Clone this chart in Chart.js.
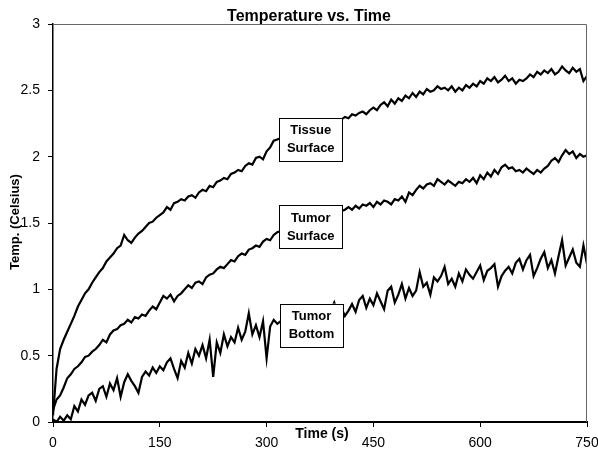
<!DOCTYPE html>
<html>
<head>
<meta charset="utf-8">
<script src="https://cdn.jsdelivr.net/npm/chart.js@4.4.1/dist/chart.umd.min.js"></script>
<style>
  body { margin: 0; background: #fff; }
</style>
</head>
<body>
<canvas id="temp-chart" width="598" height="451"></canvas>
<script>
// time in seconds (every 5 s)
const times = [
    0, 5, 10, 15, 20, 25, 30, 35, 40, 45,
    50, 55, 60, 65, 70, 75, 80, 85, 90, 95,
    100, 105, 110, 115, 120, 125, 130, 135, 140, 145,
    150, 155, 160, 165, 170, 175, 180, 185, 190, 195,
    200, 205, 210, 215, 220, 225, 230, 235, 240, 245,
    250, 255, 260, 265, 270, 275, 280, 285, 290, 295,
    300, 305, 310, 315, 320, 325, 330, 335, 340, 345,
    350, 355, 360, 365, 370, 375, 380, 385, 390, 395,
    400, 405, 410, 415, 420, 425, 430, 435, 440, 445,
    450, 455, 460, 465, 470, 475, 480, 485, 490, 495,
    500, 505, 510, 515, 520, 525, 530, 535, 540, 545,
    550, 555, 560, 565, 570, 575, 580, 585, 590, 595,
    600, 605, 610, 615, 620, 625, 630, 635, 640, 645,
    650, 655, 660, 665, 670, 675, 680, 685, 690, 695,
    700, 705, 710, 715, 720, 725, 730, 735, 740, 745,
    750
]

const tissueSurface = [
    0.05, 0.40, 0.55, 0.62, 0.68, 0.74, 0.80, 0.87, 0.92, 0.97,
    1.00, 1.05, 1.09, 1.13, 1.16, 1.21, 1.24, 1.27, 1.31, 1.33,
    1.41, 1.37, 1.35, 1.39, 1.42, 1.44, 1.47, 1.50, 1.51, 1.54,
    1.56, 1.58, 1.62, 1.60, 1.65, 1.66, 1.68, 1.67, 1.70, 1.71,
    1.69, 1.73, 1.75, 1.74, 1.78, 1.77, 1.81, 1.82, 1.84, 1.83,
    1.87, 1.88, 1.90, 1.89, 1.93, 1.95, 1.94, 1.99, 2.00, 1.98,
    2.04, 2.07, 2.12, 2.13, 2.14, 2.15, 2.16, 2.17, 2.18, 2.19,
    2.20, 2.21, 2.22, 2.22, 2.23, 2.24, 2.25, 2.26, 2.26, 2.27,
    2.28, 2.28, 2.30, 2.29, 2.32, 2.31, 2.33, 2.34, 2.32, 2.35,
    2.37, 2.35, 2.39, 2.41, 2.38, 2.43, 2.40, 2.44, 2.42, 2.46,
    2.44, 2.48, 2.45, 2.49, 2.47, 2.51, 2.49, 2.50, 2.53, 2.51,
    2.52, 2.50, 2.53, 2.49, 2.52, 2.50, 2.54, 2.52, 2.55, 2.53,
    2.57, 2.55, 2.59, 2.57, 2.60, 2.56, 2.58, 2.61, 2.57, 2.59,
    2.55, 2.58, 2.57, 2.59, 2.62, 2.60, 2.64, 2.62, 2.65, 2.63,
    2.66, 2.62, 2.64, 2.68, 2.65, 2.63, 2.67, 2.64, 2.66, 2.57,
    2.61
]

const tumorSurface = [
    0.09, 0.17, 0.20, 0.26, 0.33, 0.36, 0.40, 0.42, 0.45, 0.49,
    0.50, 0.53, 0.55, 0.58, 0.62, 0.60, 0.66, 0.69, 0.70, 0.73,
    0.74, 0.77, 0.75, 0.79, 0.78, 0.81, 0.80, 0.84, 0.87, 0.85,
    0.90, 0.95, 0.93, 0.96, 0.91, 0.95, 0.97, 1.00, 1.03, 1.01,
    1.05, 1.06, 1.04, 1.09, 1.11, 1.12, 1.15, 1.17, 1.16, 1.19,
    1.22, 1.21, 1.25, 1.27, 1.26, 1.30, 1.31, 1.33, 1.32, 1.36,
    1.38, 1.37, 1.41, 1.43, 1.44, 1.45, 1.46, 1.47, 1.48, 1.49,
    1.50, 1.51, 1.52, 1.53, 1.54, 1.55, 1.56, 1.56, 1.57, 1.58,
    1.59, 1.59, 1.60, 1.62, 1.60, 1.63, 1.61, 1.64, 1.63, 1.65,
    1.62, 1.66, 1.64, 1.67, 1.66, 1.64, 1.68, 1.67, 1.70, 1.66,
    1.73, 1.71, 1.75, 1.78, 1.76, 1.79, 1.80, 1.78, 1.83, 1.81,
    1.79, 1.82, 1.80, 1.78, 1.81, 1.80, 1.83, 1.81, 1.84, 1.80,
    1.86, 1.83, 1.88, 1.85, 1.90, 1.87, 1.92, 1.94, 1.91, 1.92,
    1.89, 1.90, 1.88, 1.91, 1.89, 1.87, 1.90, 1.88, 1.91, 1.93,
    1.97, 1.99, 1.96, 2.01, 2.05, 2.02, 2.04, 1.99, 2.02, 2.00,
    2.01
]

const tumorBottom = [
    0.02, 0.00, 0.04, 0.01, 0.05, 0.02, 0.12, 0.08, 0.17, 0.13,
    0.20, 0.22, 0.16, 0.25, 0.27, 0.19, 0.29, 0.24, 0.33, 0.19,
    0.30, 0.36, 0.31, 0.27, 0.22, 0.34, 0.38, 0.35, 0.41, 0.37,
    0.42, 0.39, 0.45, 0.48, 0.40, 0.33, 0.46, 0.41, 0.52, 0.44,
    0.55, 0.50, 0.58, 0.48, 0.62, 0.34, 0.60, 0.52, 0.66, 0.57,
    0.64, 0.60, 0.71, 0.62, 0.68, 0.82, 0.66, 0.73, 0.64, 0.76,
    0.48, 0.72, 0.77, 0.74, 0.76, 0.72, 0.79, 0.75, 0.80, 0.77,
    0.81, 0.78, 0.82, 0.79, 0.83, 0.80, 0.85, 0.81, 0.84, 0.90,
    0.82, 0.86, 0.80, 0.84, 0.89, 0.83, 0.92, 0.95, 0.86, 0.93,
    0.88, 0.97, 0.91, 0.85, 0.99, 1.02, 0.90, 0.96, 1.04, 0.93,
    1.01, 0.95, 0.99, 1.13, 1.02, 1.05, 0.96, 1.09, 1.06, 1.10,
    1.17, 1.04, 1.08, 1.02, 1.12, 1.06, 1.15, 1.11, 1.08, 1.13,
    1.18, 1.07, 1.14, 1.16, 1.19, 1.02, 1.10, 1.14, 1.17, 1.12,
    1.20, 1.23, 1.15, 1.22, 1.26, 1.10, 1.16, 1.23, 1.28, 1.16,
    1.22, 1.12, 1.25, 1.37, 1.18, 1.24, 1.30, 1.20, 1.17, 1.33,
    1.19
]

const xTicks = [0, 150, 300, 450, 600, 750]
const yTicks = [0, 0.5, 1, 1.5, 2, 2.5, 3]

// labels in boxes, anchored at (time, temperature) of the box centre
const notes = [
    { lines: ['Tissue', 'Surface'], t: 362, v: 2.13 },
    { lines: ['Tumor', 'Surface'], t: 362, v: 1.47 },
    { lines: ['Tumor', 'Bottom'], t: 363, v: 0.73 }
]

const toPoints = vals => vals.map((v, i) => ({ x: times[i], y: v }))

const lineStyle = {
    borderColor: '#000',
    borderWidth: 2.2,
    pointRadius: 0,
    tension: 0,
    fill: false
}

const textPlugin = {
    id: 'textPlugin',
    afterDatasetsDraw(chart) {
        const ctx = chart.ctx
        const area = chart.chartArea
        const xs = chart.scales.x
        const ys = chart.scales.y
        ctx.save()

        // top and right frame
        ctx.strokeStyle = '#666'
        ctx.lineWidth = 1
        ctx.beginPath()
        ctx.moveTo(area.left, area.top + 0.5)
        ctx.lineTo(area.right - 0.5, area.top + 0.5)
        ctx.lineTo(area.right - 0.5, area.bottom)
        ctx.stroke()

        // boxed labels
        ctx.font = 'bold 13px "Liberation Sans", Arial, sans-serif'
        ctx.textAlign = 'center'
        ctx.textBaseline = 'middle'
        notes.forEach(n => {
            const cx = xs.getPixelForValue(n.t)
            const cy = ys.getPixelForValue(n.v)
            const w = 63, h = 43
            ctx.fillStyle = '#fff'
            ctx.fillRect(cx - w / 2, cy - h / 2, w, h)
            ctx.strokeStyle = '#000'
            ctx.lineWidth = 1
            ctx.strokeRect(Math.round(cx - w / 2) + 0.5, Math.round(cy - h / 2) + 0.5, w, h)
            ctx.fillStyle = '#000'
            ctx.fillText(n.lines[0], cx, cy - 9)
            ctx.fillText(n.lines[1], cx, cy + 9)
        })

        // title
        ctx.font = 'bold 16px "Liberation Sans", Arial, sans-serif'
        ctx.textBaseline = 'alphabetic'
        ctx.fillText('Temperature vs. Time', 309, 21)

        // axis titles
        ctx.font = 'bold 14px "Liberation Sans", Arial, sans-serif'
        ctx.textBaseline = 'middle'
        ctx.fillText('Time (s)', 322, 434)
        ctx.font = 'bold 13px "Liberation Sans", Arial, sans-serif'
        ctx.translate(15, 222)
        ctx.rotate(-Math.PI / 2)
        ctx.fillText('Temp. (Celsius)', 0, 0)
        ctx.restore()
    }
}

new Chart(document.getElementById('temp-chart'), {
    type: 'line',
    data: {
        datasets: [
            Object.assign({ label: 'Tissue Surface', data: toPoints(tissueSurface) }, lineStyle),
            Object.assign({ label: 'Tumor Surface', data: toPoints(tumorSurface) }, lineStyle),
            Object.assign({ label: 'Tumor Bottom', data: toPoints(tumorBottom) }, lineStyle)
        ]
    },
    options: {
        responsive: false,
        animation: false,
        layout: { padding: { top: 24, right: 11, left: 0, bottom: 0 } },
        plugins: {
            legend: { display: false },
            title: { display: false },
            tooltip: { enabled: false }
        },
        scales: {
            x: {
                type: 'linear',
                min: 0,
                max: 750,
                afterBuildTicks: s => { s.ticks = xTicks.map(v => ({ value: v })) },
                afterFit: s => { s.height = 29; s.paddingLeft = 0; s.paddingRight = 0 },
                border: { color: '#000', width: 2 },
                grid: { drawOnChartArea: false, drawTicks: true, tickLength: 5, color: '#000' },
                ticks: {
                    color: '#000',
                    padding: 8,
                    maxRotation: 0,
                    font: { family: '"Liberation Sans", Arial, sans-serif', size: 14 }
                }
            },
            y: {
                min: 0,
                max: 3,
                afterBuildTicks: s => { s.ticks = yTicks.map(v => ({ value: v })) },
                afterFit: s => { s.width = 53 },
                border: { color: '#000', width: 1.5 },
                grid: { drawOnChartArea: false, drawTicks: true, tickLength: 5, color: '#000' },
                ticks: {
                    color: '#000',
                    padding: 8,
                    font: { family: '"Liberation Sans", Arial, sans-serif', size: 14 },
                    callback: v => String(v)
                }
            }
        }
    },
    plugins: [textPlugin]
})
</script>
</body>
</html>
